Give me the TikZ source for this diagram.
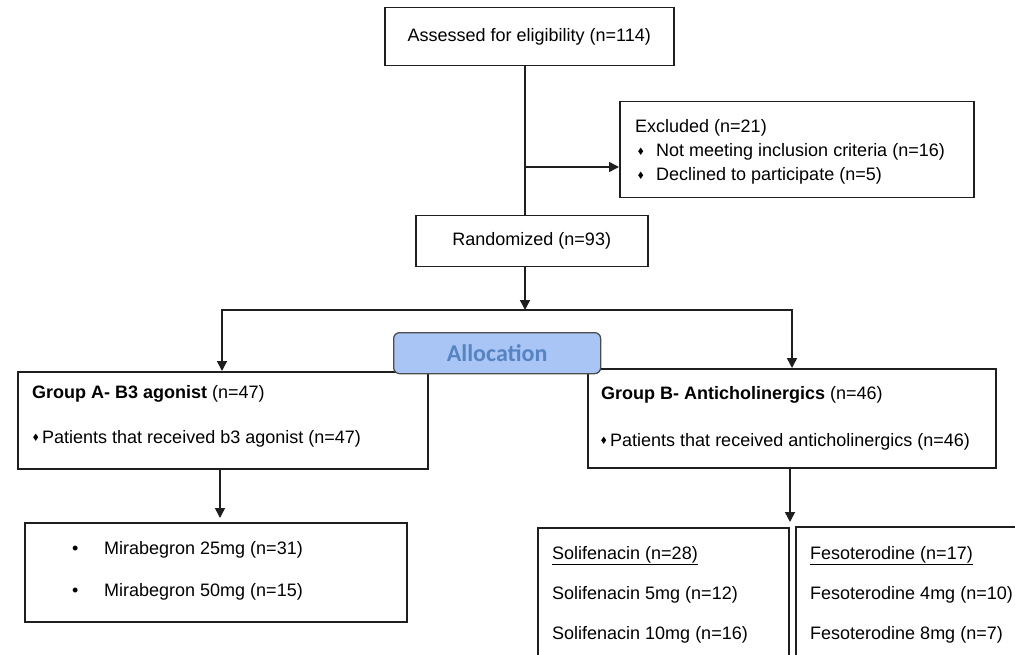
\documentclass[tikz,border=0pt]{standalone}
\usepackage{fontspec}
\setmainfont{Liberation Sans}
\newfontfamily\allocfont{Carlito}
\usetikzlibrary{arrows.meta}
\definecolor{lineclr}{HTML}{1F1F1F}
\definecolor{allocfill}{HTML}{A9C5F6}
\definecolor{alloctext}{HTML}{5683C2}
\newcommand{\dmd}{\tikz[baseline=0pt]\fill[black] (0pt,5.8pt)--(2.5pt,9.4pt)--(5pt,5.8pt)--(2.5pt,2.2pt)--cycle;}
\begin{document}
\begin{tikzpicture}[x=1pt,y=-1pt,
  box/.style={draw=lineclr, line width=1.5pt, rectangle, inner sep=0pt, anchor=north west, font=\fontsize{18}{21}\selectfont},
  txt/.style={anchor=base west, inner sep=0pt, font=\fontsize{18}{21}\selectfont, text=black},
  ln/.style={draw=lineclr, line width=1.5pt},
  arr/.style={draw=lineclr, line width=1.5pt, -{Triangle[length=10pt,width=10pt]}},
  allocbox/.style={draw=lineclr!80, line width=1.3pt, fill=allocfill, rounded corners=6pt, inner sep=0pt, anchor=north west, text=alloctext, font=\allocfont\bfseries\fontsize{24}{28}\selectfont}]
\useasboundingbox (0,0) rectangle (1015,655);
\clip (0,0) rectangle (1015,655);

% boxes
\node[box, minimum width=289pt, minimum height=58pt] (assess) at (384,7) {Assessed for eligibility (n=114)};
\node[box, minimum width=354pt, minimum height=96pt] (excl) at (619,101) {};
\node[box, minimum width=232pt, minimum height=51pt] (rand) at (415,215) {Randomized (n=93)};
\node[box, minimum width=410pt, minimum height=97pt] (grpA) at (17,371) {};
\node[box, minimum width=408pt, minimum height=99pt] (grpB) at (587,368) {};
\node[box, minimum width=382pt, minimum height=99pt] (mira) at (24,522) {};
\node[box, minimum width=251pt, minimum height=200pt] (soli) at (537,527) {};
\node[box, minimum width=260pt, minimum height=200pt] (feso) at (795,526) {};

% texts
\node[txt] (ex0) at (635,133) {Excluded (n=21)};
\node[txt] (ex1) at (638,157) {\dmd\hspace{13pt}Not meeting inclusion criteria (n=16)};
\node[txt] (ex2) at (638,181) {\dmd\hspace{13pt}Declined to participate (n=5)};

\node[txt] (ga0) at (32,398) {\bfseries Group A- B3 agonist\mdseries{} (n=47)};
\node[txt] (ga1) at (33,443) {\dmd\hspace{4pt}Patients that received b3 agonist (n=47)};

\node[txt] (gb0) at (601,399) {\bfseries Group B- Anticholinergics\mdseries{} (n=46)};
\node[txt] (gb1) at (601,446) {\dmd\hspace{4pt}Patients that received anticholinergics (n=46)};

\node[txt] (mb1) at (72,554) {\makebox[32pt][l]{\textbullet}Mirabegron 25mg (n=31)};
\node[txt] (mb2) at (72,596) {\makebox[32pt][l]{\textbullet}Mirabegron 50mg (n=15)};

\node[txt] (so0) at (552,559) {\underline{Solifenacin (n=28)}};
\node[txt] (so1) at (552,599) {Solifenacin 5mg (n=12)};
\node[txt] (so2) at (552,639) {Solifenacin 10mg (n=16)};

\node[txt] (fe0) at (810,559) {\underline{Fesoterodine (n=17)}};
\node[txt] (fe1) at (810,599) {Fesoterodine 4mg (n=10)};
\node[txt] (fe2) at (810,639) {Fesoterodine 8mg (n=7)};

% connectors
\coordinate (j1) at (525,167);
\coordinate (split) at (525,310);
\coordinate (la) at (222,310);
\coordinate (lb) at (792,310);
\coordinate (da) at (220,500);
\coordinate (db) at (790,500);
\draw[ln] (assess.south -| j1) -- (j1 |- rand.north);
\draw[arr] (j1) -- (j1 -| excl.west);
\draw[arr] (rand.south -| split) -- (split);
\draw[arr] (split) -- (la) -- (la |- grpA.north);
\draw[arr] (split) -- (lb) -- (lb |- grpB.north);
\draw[arr, shorten >=4pt] (grpA.south -| da) -- (da |- mira.north);
\draw[arr, shorten >=5pt] (grpB.south -| db) -- (db |- soli.north);

% allocation label drawn over the group boxes
\node[allocbox, minimum width=207pt, minimum height=41pt] (alloc) at (393,332) {\raisebox{-2pt}{Allocation}};
\end{tikzpicture}
\end{document}
